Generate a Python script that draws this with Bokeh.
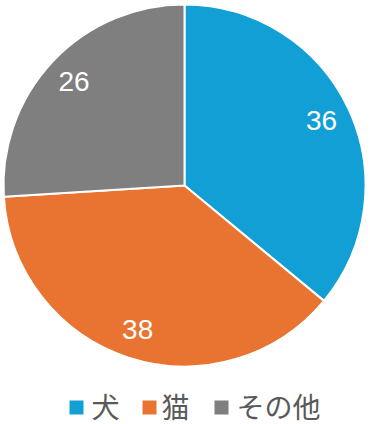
import math
from bokeh.plotting import figure
from bokeh.models import Range1d, ColumnDataSource
from bokeh.core.properties import value
from bokeh.embed import file_html
from bokeh.resources import INLINE

categories = ["犬", "猫", "その他"]
values = [36, 38, 26]
colors = ["#119fd6", "#e97431", "#7f7f7f"]

W, H = 370, 424
cx, cy, r = 184, H - 185, 181
label_r = 151.5

total = sum(values)
starts, ends, lx, ly = [], [], [], []
cum = 0
for v in values:
    a0 = math.pi / 2 - 2 * math.pi * cum / total
    a1 = math.pi / 2 - 2 * math.pi * (cum + v) / total
    starts.append(a0)
    ends.append(a1)
    mid = (a0 + a1) / 2
    lx.append(cx + label_r * math.cos(mid))
    ly.append(cy + label_r * math.sin(mid))
    cum += v

p = figure(width=W, height=H, output_backend="svg", toolbar_location=None,
           x_range=Range1d(0, W), y_range=Range1d(0, H), min_border=0)
p.axis.visible = False
p.grid.visible = False
p.outline_line_color = None
p.background_fill_color = "white"

src = ColumnDataSource(dict(start=starts, end=ends, color=colors,
                            lx=lx, ly=ly, txt=[str(v) for v in values]))
p.wedge(x=cx, y=cy, radius=r, start_angle="start", end_angle="end",
        direction="clock", fill_color="color", line_color="white",
        line_width=2, source=src)
p.text(x="lx", y="ly", text="txt", source=src, text_color="white",
       text_font=value("Liberation Sans"), text_font_size="28px",
       text_align="center", text_baseline="middle")

# legend
leg_y = H - 407
sq_x = [76, 149, 221]
tx_x = [91, 161, 236]
p.scatter(x=sq_x, y=[leg_y] * 3, marker="square", size=14, fill_color=colors,
          line_color=None)
p.text(x=tx_x, y=[leg_y + 2] * 3, text=categories, text_color="#595959",
       text_font=value("Noto Sans CJK JP"), text_font_size="28px",
       text_align="left", text_baseline="middle")

open("out.html", "w").write(file_html(p, INLINE))
